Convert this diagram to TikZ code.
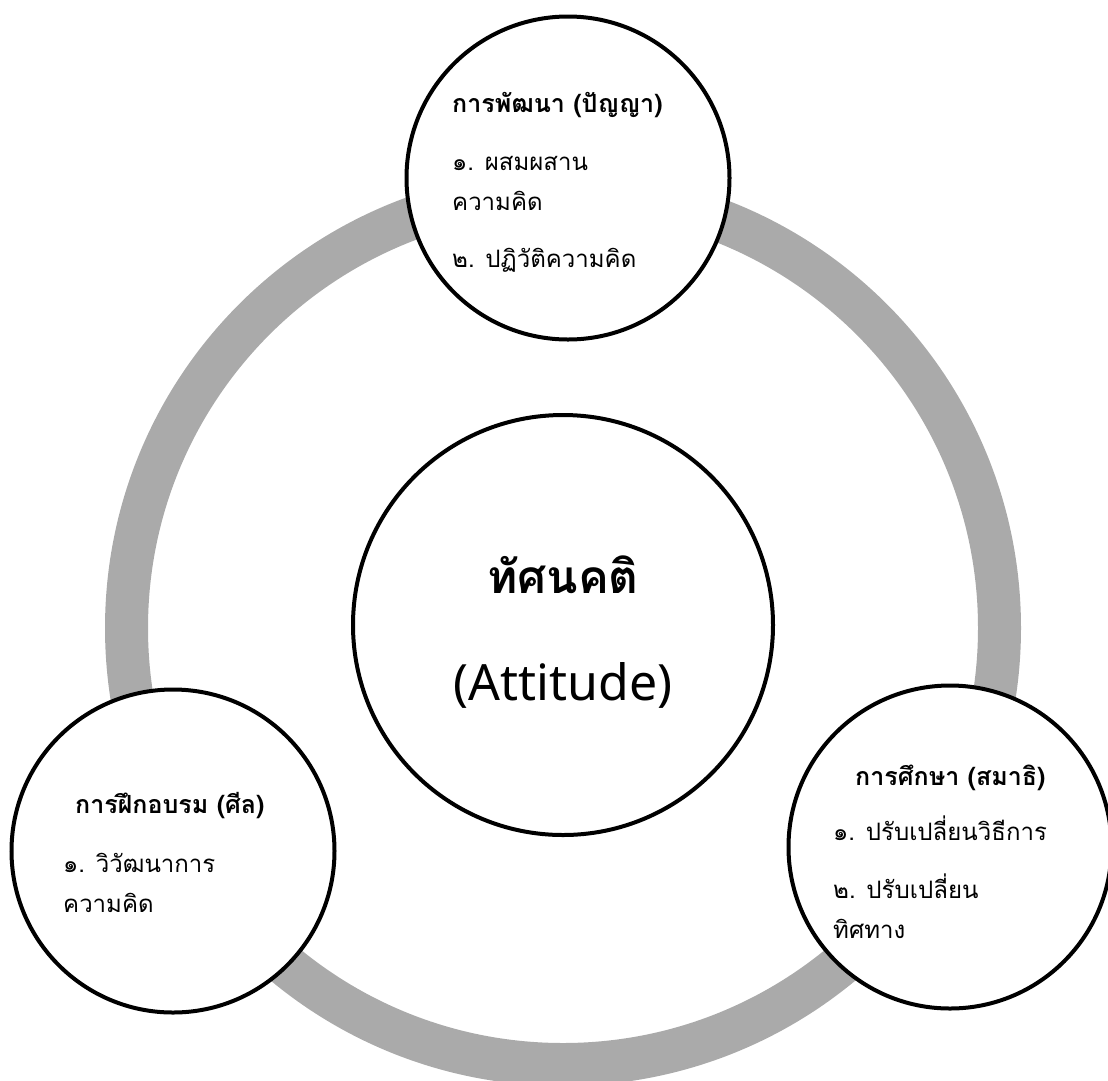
\documentclass[tikz,border=0pt]{standalone}
\usepackage{fontspec}
\newfontfamily\thaifont[Script=Thai]{Loma}
\newfontfamily\latinfont{Noto Sans}
\definecolor{ringgray}{HTML}{AAAAAA}
\begin{document}
\begin{tikzpicture}[x=1pt,y=-1pt,
  bubble/.style={circle, draw=black, line width=4pt, fill=white, inner sep=0pt, minimum size=323pt},
  hub/.style={circle, draw=black, line width=4pt, fill=white, inner sep=0pt, minimum size=420pt},
  head/.style={anchor=base west, inner sep=0pt, font=\thaifont\bfseries\fontsize{25}{30}\selectfont},
  item/.style={anchor=base west, inner sep=0pt, font=\thaifont\fontsize{24}{29}\selectfont},
  bigth/.style={anchor=base, inner sep=0pt, font=\thaifont\bfseries\fontsize{46}{56}\selectfont},
  bigen/.style={anchor=base, inner sep=0pt, font=\latinfont\fontsize{50}{60}\selectfont}]
\useasboundingbox (0,0) rectangle (1108,1080);
\clip (0,0) rectangle (1108,1080);
% grey ring linking the three stages
\coordinate (ctr) at (563,628);
\draw[ringgray, line width=43pt] (ctr) circle[radius=436.5pt];
% central circle
\node[hub] (attitude) at (563,625) {};
\node[bigth] (tTh) at (563,593) {ทัศนคติ};
\node[bigen] (tEn) at (563,700) {(Attitude)};
% top: development
\node[bubble] (dev) at (568,178) {};
\node[head] (devH) at (452,112) {การพัฒนา (ปัญญา)};
\node[item] (dev1a) at (452,170) {๑. ผสมผสาน};
\node[item] (dev1b) at (452,210) {ความคิด};
\node[item] (dev2) at (452,267) {๒. ปฏิวัติความคิด};
% left: training
\node[bubble] (train) at (173,851) {};
\node[head] (trainH) at (75,813) {การฝึกอบรม (ศีล)};
\node[item] (train1a) at (63,872) {๑. วิวัฒนาการ};
\node[item] (train1b) at (63,912) {ความคิด};
% right: education
\node[bubble] (edu) at (950,847) {};
\node[head] (eduH) at (855,785) {การศึกษา (สมาธิ)};
\node[item] (edu1) at (833,840) {๑. ปรับเปลี่ยนวิธีการ};
\node[item] (edu2a) at (833,898) {๒. ปรับเปลี่ยน};
\node[item] (edu2b) at (833,938) {ทิศทาง};
\end{tikzpicture}
\end{document}
